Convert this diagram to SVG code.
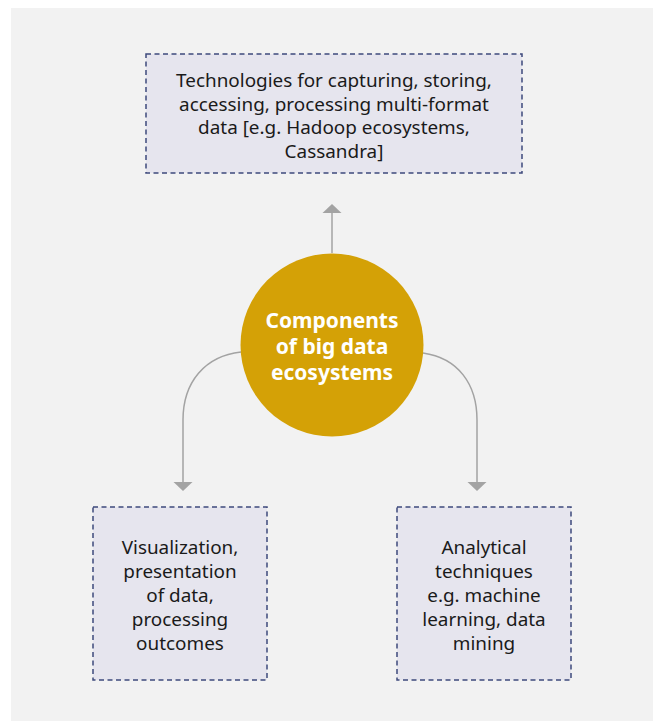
<svg xmlns="http://www.w3.org/2000/svg" width="653" height="721" viewBox="0 0 653 721">
<style>
.box{fill:#e6e5ee;stroke:#3e4a7c;stroke-width:1.5;stroke-dasharray:5 3.5}
.lbl{font-family:"Noto Sans","Open Sans",sans-serif;font-size:18.9px;fill:#1a1a1a;text-anchor:middle}
.ctr{font-family:"Noto Sans","Open Sans",sans-serif;font-size:21px;font-weight:bold;fill:#ffffff;text-anchor:middle}
.conn{fill:none;stroke:#a3a3a3;stroke-width:1.5}
</style>
<rect x="0" y="0" width="653" height="721" fill="#ffffff"/>
<rect x="11" y="8" width="642" height="713" fill="#f2f2f2"/>
<g id="connectors">
<path class="conn" d="M332,253 L332,213"/>
<path d="M322.5,213 L332,204 L341.5,213 Z" fill="#a3a3a3"/>
<path class="conn" d="M241,352 C205,356 183,382 183,420 L183,482"/>
<path d="M173.5,482 L183,491 L192.5,482 Z" fill="#a3a3a3"/>
<path class="conn" d="M423,353 C458,358 477,384 477,420 L477,482"/>
<path d="M467.5,482 L477,491 L486.5,482 Z" fill="#a3a3a3"/>
</g>
<g id="top">
<rect class="box" x="146" y="54" width="376" height="119"/>
<text class="lbl" x="334" y="87">Technologies for capturing, storing,</text>
<text class="lbl" x="334" y="110.5">accessing, processing multi-format</text>
<text class="lbl" x="334" y="134">data [e.g. Hadoop ecosystems,</text>
<text class="lbl" x="334" y="157.5">Cassandra]</text>
</g>
<g id="center">
<circle cx="332" cy="345" r="91.5" fill="#d4a106"/>
<text class="ctr" x="332" y="328">Components</text>
<text class="ctr" x="332" y="354">of big data</text>
<text class="ctr" x="332" y="380">ecosystems</text>
</g>
<g id="left">
<rect class="box" x="93" y="507" width="174" height="173"/>
<text class="lbl" x="180" y="554">Visualization,</text>
<text class="lbl" x="180" y="578">presentation</text>
<text class="lbl" x="180" y="602">of data,</text>
<text class="lbl" x="180" y="626">processing</text>
<text class="lbl" x="180" y="650">outcomes</text>
</g>
<g id="right">
<rect class="box" x="397" y="507" width="174" height="173"/>
<text class="lbl" x="484" y="554">Analytical</text>
<text class="lbl" x="484" y="578">techniques</text>
<text class="lbl" x="484" y="602">e.g. machine</text>
<text class="lbl" x="484" y="626">learning, data</text>
<text class="lbl" x="484" y="650">mining</text>
</g>
</svg>
